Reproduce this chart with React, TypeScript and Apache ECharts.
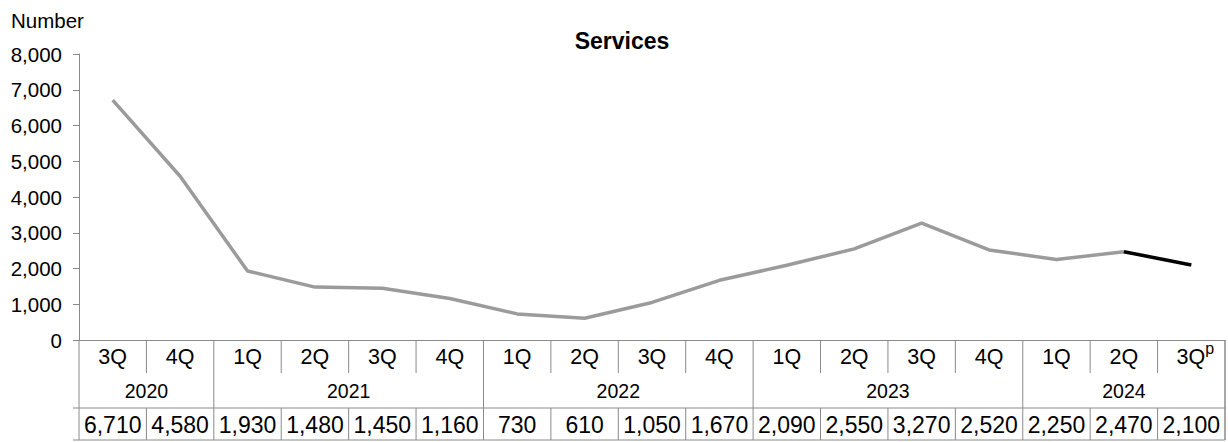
import React, { useEffect, useRef } from "react";
import * as echarts from "echarts";

const quarters = ["3Q", "4Q", "1Q", "2Q", "3Q", "4Q", "1Q", "2Q", "3Q", "4Q", "1Q", "2Q", "3Q", "4Q", "1Q", "2Q", "3Q{sup|p}"];
const values = [6710, 4580, 1930, 1480, 1450, 1160, 730, 610, 1050, 1670, 2090, 2550, 3270, 2520, 2250, 2470, 2100];
const yearLabels = ["2020", "2021", "2022", "2023", "2024"];
const yearStart = [0, 2, 6, 10, 14];
const yearEnd = [1, 5, 9, 13, 16];
const provisionalFrom = 15;
const yTicks = [0, 1000, 2000, 3000, 4000, 5000, 6000, 7000, 8000];

const FONT = "'Liberation Sans', Arial, sans-serif";
const AXIS = "#8a8a8a";
const LINE = "#9b9b9b";
const ROW1 = 33;
const ROW2 = 68;
const ROW3 = 100;

export default function App() {
  const ref = useRef<HTMLDivElement>(null);
  useEffect(() => {
    document.body.style.margin = "0";
    const chart = echarts.init(ref.current!, undefined, { renderer: "svg" });
    const ls = { stroke: AXIS, lineWidth: 1 };
    const grayData = values.map((v, i) => (i <= provisionalFrom ? v : null));
    const blackData = values.map((v, i) => (i >= provisionalFrom ? v : null));
    chart.setOption({
      animation: false,
      title: {
        text: "Services",
        left: 617,
        textAlign: "center",
        top: 24,
        textStyle: { fontFamily: FONT, fontSize: 23, fontWeight: "bold", color: "#000", lineHeight: 23 },
      },
      graphic: [
        {
          type: "text",
          left: 11,
          top: 10,
          style: { text: "Number", fontFamily: FONT, fontSize: 20.5, fill: "#000" },
        },
      ],
      grid: { left: 79, right: 3, top: 54, bottom: 102, containLabel: false },
      xAxis: {
        type: "category",
        data: quarters,
        boundaryGap: true,
        axisLine: { show: true, lineStyle: { color: AXIS, width: 1 } },
        axisTick: { show: false },
        axisLabel: { show: false },
        splitLine: { show: false },
      },
      yAxis: {
        type: "value",
        min: yTicks[0],
        max: yTicks[yTicks.length - 1],
        interval: 1000,
        axisLine: { show: true, lineStyle: { color: AXIS, width: 1 } },
        axisTick: { show: true, length: 6, lineStyle: { color: AXIS } },
        axisLabel: {
          margin: 17,
          fontFamily: FONT,
          fontSize: 20.5,
          color: "#000",
          formatter: (v: number) => v.toLocaleString("en-US"),
        },
        splitLine: { show: false },
      },
      series: [
        {
          type: "line",
          data: grayData,
          symbol: "none",
          lineStyle: { color: LINE, width: 3.5 },
          z: 3,
        },
        {
          type: "line",
          data: blackData,
          symbol: "none",
          lineStyle: { color: "#000", width: 3.5 },
          z: 4,
        },
        {
          type: "custom",
          silent: true,
          data: quarters.map((_, i) => [i, 0]),
          encode: { x: 0, y: 1 },
          renderItem: (params: any, api: any) => {
            const i = params.dataIndex;
            const c = api.coord([i, 0]);
            const cx = c[0];
            const y0 = c[1];
            const w = api.size([1, 0])[0];
            const l = cx - w / 2;
            const r = cx + w / 2;
            const children: any[] = [];
            children.push({ type: "line", shape: { x1: r, y1: y0, x2: r, y2: y0 + ROW1 }, style: ls });
            children.push({ type: "line", shape: { x1: r, y1: y0 + ROW2, x2: r, y2: y0 + ROW3 }, style: ls });
            const hl = i === 0 ? l - 6 : l;
            children.push({ type: "line", shape: { x1: hl, y1: y0 + ROW2, x2: r, y2: y0 + ROW2 }, style: ls });
            children.push({ type: "line", shape: { x1: hl, y1: y0 + ROW3, x2: r, y2: y0 + ROW3 }, style: ls });
            if (i === 0) {
              children.push({ type: "line", shape: { x1: l, y1: y0, x2: l, y2: y0 + ROW3 }, style: ls });
            }
            if (i === quarters.length - 1) {
              children.push({ type: "line", shape: { x1: r, y1: y0, x2: r, y2: y0 + ROW3 }, style: ls });
            }
            const isLast = i === quarters.length - 1;
            children.push({
              type: "text",
              x: isLast ? cx + 4 : cx,
              y: y0 + 17,
              style: {
                text: quarters[i],
                fontFamily: FONT,
                fontSize: 21.5,
                fill: "#000",
                align: "center",
                verticalAlign: "middle",
                lineHeight: 34,
                rich: {
                  sup: { fontFamily: FONT, fontSize: 16, fill: "#000", verticalAlign: "top", lineHeight: 16 },
                },
              },
            });
            children.push({
              type: "text",
              x: cx,
              y: y0 + 85,
              style: {
                text: values[i].toLocaleString("en-US"),
                fontFamily: FONT,
                fontSize: 23,
                fill: "#000",
                align: "center",
                verticalAlign: "middle",
              },
            });
            return { type: "group", children };
          },
          z: 5,
        },
        {
          type: "custom",
          silent: true,
          data: yearStart.map((s) => [s, 0]),
          encode: { x: 0, y: 1 },
          renderItem: (params: any, api: any) => {
            const k = params.dataIndex;
            const w = api.size([1, 0])[0];
            const s = api.coord([yearStart[k], 0]);
            const e = api.coord([yearEnd[k], 0]);
            const y0 = s[1];
            const sx = s[0] - w / 2;
            const ex = e[0] + w / 2;
            return {
              type: "group",
              children: [
                { type: "line", shape: { x1: ex, y1: y0 + ROW1, x2: ex, y2: y0 + ROW2 }, style: ls },
                {
                  type: "text",
                  x: (sx + ex) / 2,
                  y: y0 + 51,
                  style: {
                    text: yearLabels[k],
                    fontFamily: FONT,
                    fontSize: 19.5,
                    fill: "#000",
                    align: "center",
                    verticalAlign: "middle",
                  },
                },
              ],
            };
          },
          z: 5,
        },
      ],
    });
    return () => chart.dispose();
  }, []);
  return <div ref={ref} style={{ width: 1228, height: 442 }} />;
}
